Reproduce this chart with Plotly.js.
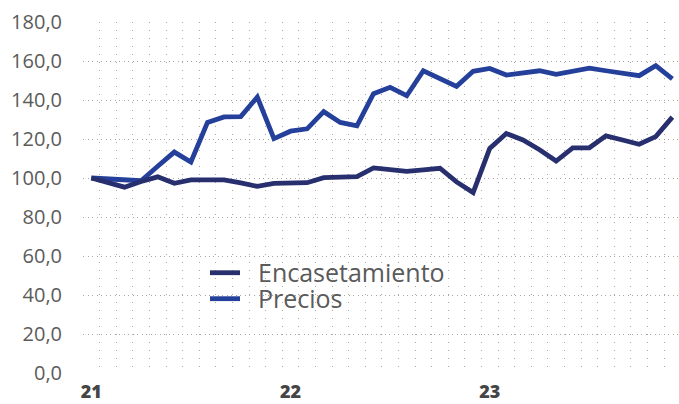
<!DOCTYPE html>
<html>
<head>
<meta charset="utf-8">
<script src="https://cdn.plot.ly/plotly-3.0.1.min.js"></script>
<style>html,body{margin:0;padding:0;background:#fff;}#chart{width:679px;height:404px;}</style>
</head>
<body>
<div id="chart"></div>
<script>
// Months Jan 2021 .. Dec 2023
const months = [
  '2021-01','2021-02','2021-03','2021-04','2021-05','2021-06','2021-07','2021-08','2021-09','2021-10','2021-11','2021-12',
  '2022-01','2022-02','2022-03','2022-04','2022-05','2022-06','2022-07','2022-08','2022-09','2022-10','2022-11','2022-12',
  '2023-01','2023-02','2023-03','2023-04','2023-05','2023-06','2023-07','2023-08','2023-09','2023-10','2023-11','2023-12'
];
const encasetamiento = [100, 97.5, 95.3, 98.2, 100.6, 97.3, 99, 99, 99, 97.5, 95.7, 97.2,
  97.5, 97.6, 100.2, 100.4, 100.7, 105.2, 104.3, 103.4, 104.2, 105, 98, 92.5,
  115.2, 122.8, 119.5, 114.5, 108.7, 115.4, 115.5, 121.6, 119.5, 117.3, 121.2, 131.2];
const precios = [100, 99.6, 99.1, 98.6, 106, 113.3, 108.2, 128.5, 131.3, 131.5, 141.5, 120.2,
  124, 125.2, 134, 128.5, 126.8, 143.2, 146.5, 142.2, 155, 151, 147, 154.7,
  156.2, 152.8, 154, 155, 153.2, 155, 156.3, 155, 153.7, 152.5, 157.6, 150.8];
const tickLabels = ['21', '22', '23'];
const tickMonths = ['2021-01', '2022-01', '2023-01'];

const xIdx = months.map((m, i) => i);
const tickIdx = tickMonths.map(m => months.indexOf(m));

const NBSP = '\u00a0\u00a0';
const traces = [
  {x: xIdx, y: precios, text: months, name: NBSP + 'Precios', type: 'scatter', mode: 'lines',
   line: {color: '#24409a', width: 4.8}, legend: 'legend2'},
  {x: xIdx, y: encasetamiento, text: months, name: NBSP + 'Encasetamiento', type: 'scatter', mode: 'lines',
   line: {color: '#272f6e', width: 4.8}, legend: 'legend'}
];

const legendFont = {family: 'Open Sans', size: 25, color: '#5a5a5a'};
const layout = {
  width: 679, height: 404,
  margin: {l: 83, r: 0, t: 22, b: 31},
  paper_bgcolor: '#fff', plot_bgcolor: '#fff',
  showlegend: true,
  legend: {x: 0.2047, y: 0.285, xanchor: 'left', yanchor: 'middle', bgcolor: 'rgba(0,0,0,0)', font: legendFont},
  legend2: {x: 0.2047, y: 0.211, xanchor: 'left', yanchor: 'middle', bgcolor: 'rgba(0,0,0,0)', font: legendFont},
  xaxis: {
    range: [-0.5, 35.4], type: 'linear',
    tickmode: 'array', tickvals: tickIdx, ticktext: tickLabels,
    showgrid: false, zeroline: false, showline: false, ticks: '',
    ticklabelstandoff: 6,
    tickfont: {family: 'Open Sans', size: 18, color: '#454545', weight: 800},
    minor: {tickmode: 'linear', tick0: -0.5, dtick: 1, showgrid: true, gridcolor: '#aaa5a1', griddash: '1px,7px', gridwidth: 1, ticks: ''}
  },
  yaxis: {
    range: [0, 180], tickmode: 'linear', tick0: 0, dtick: 20,
    tickformat: '.1f', showgrid: true, gridcolor: '#aaa5a1', griddash: '1px,3.5px', gridwidth: 1,
    zeroline: false, showline: false, ticks: '',
    ticklabelstandoff: 20,
    tickfont: {family: 'Open Sans', size: 20, color: '#5b5b5b'}
  },
  separators: ',.',
  shapes: [
    {type: 'rect', xref: 'paper', yref: 'paper', x0: 0.159, x1: 0.671, y0: 0.074, y1: 0.416,
     fillcolor: '#ffffff', line: {width: 0}, layer: 'between'}
  ]
};

Plotly.newPlot('chart', traces, layout, {displayModeBar: false, staticPlot: true});
</script>
</body>
</html>
